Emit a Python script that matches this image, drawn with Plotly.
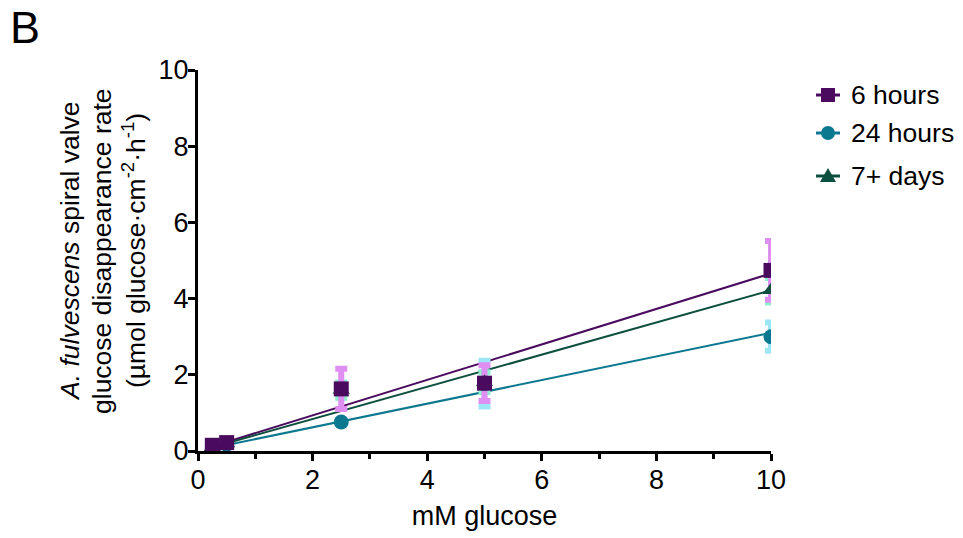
import plotly.graph_objects as go

glucose_mM = [0.25, 0.5, 2.5, 5, 10]

rate_6h = [0.15, 0.22, 1.63, 1.78, 4.74]
err_6h = [0.03, 0.03, 0.53, 0.47, 0.77]

rate_24h = [0.08, 0.18, 0.76, 1.77, 3.00]
err_24h = [0.02, 0.03, 0.05, 0.60, 0.37]

rate_7d = [0.10, 0.20, 1.60, 1.81, 4.22]
err_7d = [0.02, 0.03, 0.20, 0.26, 0.32]

fit_x = [0.25, 10]
fit_6h = [0.12, 4.66]
fit_24h = [0.08, 3.10]
fit_7d = [0.10, 4.22]

series_names = ["6 hours", "24 hours", "7+ days"]

y_title_lines = [
    "<i>A. fulvescens</i> spiral valve",
    "glucose disappearance rate",
    "(µmol glucose·cm<sup>-2</sup>·h<sup>-1</sup>)",
]
x_title = "mM glucose"
panel_label = "B"

styles = {
    "6 hours": dict(color="#4a0a5e", ecolor="#df8ff2", symbol="square"),
    "24 hours": dict(color="#0b7890", ecolor="#9de6f6", symbol="circle"),
    "7+ days": dict(color="#0d4f3e", ecolor="#8ff0cd", symbol="triangle-up"),
}
values = {
    "6 hours": (rate_6h, err_6h, fit_6h),
    "24 hours": (rate_24h, err_24h, fit_24h),
    "7+ days": (rate_7d, err_7d, fit_7d),
}

FONT = "Liberation Sans, Arial, sans-serif"
fig = go.Figure()

# regression lines
for name in series_names:
    fig.add_trace(go.Scatter(x=fit_x, y=values[name][2], mode="lines",
                             line=dict(color=styles[name]["color"], width=2),
                             showlegend=False, hoverinfo="skip"))

# error bars (back to front)
for name in ["24 hours", "7+ days", "6 hours"]:
    y, e, _ = values[name]
    fig.add_trace(go.Scatter(x=glucose_mM, y=y, mode="markers",
                             marker=dict(size=1, opacity=0),
                             error_y=dict(type="data", array=e, visible=True,
                                          color=styles[name]["ecolor"], thickness=6, width=6),
                             showlegend=False, hoverinfo="skip"))

# markers
for name in ["24 hours", "7+ days", "6 hours"]:
    y, e, _ = values[name]
    fig.add_trace(go.Scatter(x=glucose_mM, y=y, mode="markers", name=name,
                             marker=dict(symbol=styles[name]["symbol"], size=15,
                                         color=styles[name]["color"]),
                             showlegend=False))

axis_common = dict(showline=True, linecolor="black", linewidth=3, ticks="outside",
                   ticklen=7, tickwidth=3, tickcolor="black", showgrid=False, zeroline=False,
                   tickfont=dict(size=27, color="black", family=FONT))

fig.update_xaxes(range=[0, 10], dtick=2, tick0=0, ticklabelstandoff=-4,
                 minor=dict(dtick=1, ticks="outside", ticklen=5, tickwidth=3, tickcolor="black"),
                 title=dict(text=x_title, font=dict(size=27, color="black", family=FONT), standoff=12),
                 **axis_common)
fig.update_yaxes(range=[0, 10], dtick=2, tick0=0, ticklabelstandoff=-6, **axis_common)

# plot area in page pixels: x 198..771, y 70..451
def px_x(px):
    return (px - 198) / 573.0

def px_y(py):
    return (451 - py) / 381.0

# y-axis title (three lines, rotated)
for xc, txt in zip([70, 102, 134], y_title_lines):
    fig.add_annotation(text=txt, xref="paper", yref="paper", x=px_x(xc), y=px_y(251),
                       xanchor="center", yanchor="middle", textangle=-90, showarrow=False,
                       font=dict(size=26.5, color="black", family=FONT))

# panel label
fig.add_annotation(text=panel_label, xref="paper", yref="paper", x=px_x(8), y=px_y(0),
                   xanchor="left", yanchor="top", showarrow=False,
                   font=dict(size=45, color="black", family=FONT))

# legend drawn by hand (line + marker + label)
row_y = [95, 133, 176]
for name, ry in zip(series_names, row_y):
    col = styles[name]["color"]
    fig.add_shape(type="line", xref="paper", yref="paper",
                  x0=px_x(816), x1=px_x(840), y0=px_y(ry), y1=px_y(ry),
                  line=dict(color=col, width=3))
    cx, h = 828, 7
    sym = styles[name]["symbol"]
    if sym == "square":
        fig.add_shape(type="rect", xref="paper", yref="paper",
                      x0=px_x(cx - h), x1=px_x(cx + h), y0=px_y(ry + h), y1=px_y(ry - h),
                      fillcolor=col, line=dict(width=0))
    elif sym == "circle":
        fig.add_shape(type="circle", xref="paper", yref="paper",
                      x0=px_x(cx - h), x1=px_x(cx + h), y0=px_y(ry + h), y1=px_y(ry - h),
                      fillcolor=col, line=dict(width=0))
    else:
        path = (f"M {px_x(cx - 8)},{px_y(ry + 6)} L {px_x(cx + 8)},{px_y(ry + 6)} "
                f"L {px_x(cx)},{px_y(ry - 8)} Z")
        fig.add_shape(type="path", xref="paper", yref="paper", path=path,
                      fillcolor=col, line=dict(width=0))
    fig.add_annotation(text=name, xref="paper", yref="paper", x=px_x(849), y=px_y(ry),
                       xanchor="left", yanchor="middle", showarrow=False,
                       font=dict(size=26.5, color="black", family=FONT))

fig.update_layout(
    width=963, height=538,
    margin=dict(l=198, r=192, t=70, b=87),
    plot_bgcolor="white", paper_bgcolor="white",
    font=dict(family=FONT, color="black"),
    showlegend=False,
)

fig.write_html("out.html", config={"displayModeBar": False},
               post_script="document.body.style.margin='0';")
